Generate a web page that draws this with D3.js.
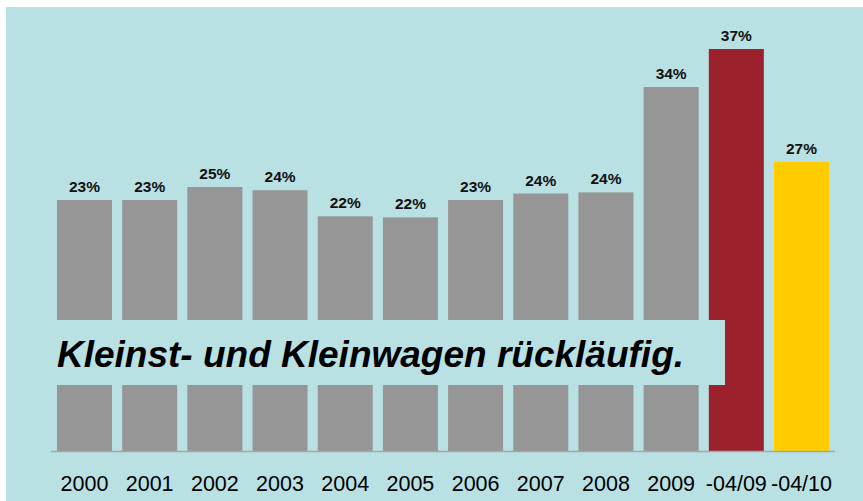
<!DOCTYPE html>
<html>
<head>
<meta charset="utf-8">
<script src="https://cdn.jsdelivr.net/npm/d3@7"></script>
<style>
  html, body { margin: 0; padding: 0; background: #ffffff; }
  svg { display: block; }
</style>
</head>
<body>
<script>
const categories = ["2000","2001","2002","2003","2004","2005","2006","2007","2008","2009","-04/09","-04/10"];
const values = [23.1, 23.1, 24.3, 24.0, 21.6, 21.5, 23.1, 23.7, 23.8, 33.5, 37.0, 26.6];
const valueLabels = ["23%","23%","25%","24%","22%","22%","23%","24%","24%","34%","37%","27%"];
const barColors = ["#969696","#969696","#969696","#969696","#969696","#969696","#969696","#969696","#969696","#969696","#9b212d","#ffcc00"];
const bannerText = "Kleinst- und Kleinwagen rückläufig.";

const W = 863, H = 501;
const bg = "#b9e0e3";

const svg = d3.select("body").append("svg").attr("width", W).attr("height", H);

svg.append("rect").attr("x", 6).attr("y", 7).attr("width", W - 6).attr("height", H - 7).attr("fill", bg);

const x = d3.scaleBand().domain(categories).range([51.9, 834.1]).paddingInner(0.156).paddingOuter(0.078);
const y = d3.scaleLinear().domain([0, 37]).range([451, 49]);

svg.append("g").selectAll("rect").data(categories).join("rect")
  .attr("x", d => x(d))
  .attr("y", (d, i) => y(values[i]))
  .attr("width", x.bandwidth())
  .attr("height", (d, i) => y(0) - y(values[i]))
  .attr("fill", (d, i) => barColors[i]);

svg.append("g").selectAll("text").data(categories).join("text")
  .attr("x", d => x(d) + x.bandwidth() / 2)
  .attr("y", (d, i) => y(values[i]) - 8)
  .attr("text-anchor", "middle")
  .attr("font-family", "Liberation Sans, Arial, sans-serif")
  .attr("font-weight", "bold")
  .attr("font-size", 15.5)
  .attr("fill", "#111")
  .text((d, i) => valueLabels[i]);

// axis
const axis = d3.axisBottom(x).tickSize(0).tickPadding(0);
const gAxis = svg.append("g").attr("transform", `translate(0, ${y(0)})`).call(axis);
gAxis.select(".domain").remove();
gAxis.selectAll("text")
  .attr("dy", null)
  .attr("y", 40)
  .attr("font-family", "Liberation Sans, Arial, sans-serif")
  .attr("font-size", 21.5)
  .attr("fill", "#000");
svg.append("line")
  .attr("x1", 51).attr("x2", 835)
  .attr("y1", y(0) + 0.5).attr("y2", y(0) + 0.5)
  .attr("stroke", "#a6a6a6").attr("stroke-width", 1.5);

// banner
svg.append("rect").attr("x", 40).attr("y", 320).attr("width", 725 - 40).attr("height", 65).attr("fill", bg);
svg.append("text")
  .attr("x", 57).attr("y", 366.5)
  .attr("font-family", "Liberation Sans, Arial, sans-serif")
  .attr("font-weight", "bold")
  .attr("font-style", "italic")
  .attr("font-size", 37)
  .attr("fill", "#000")
  .text(bannerText);
</script>
</body>
</html>
